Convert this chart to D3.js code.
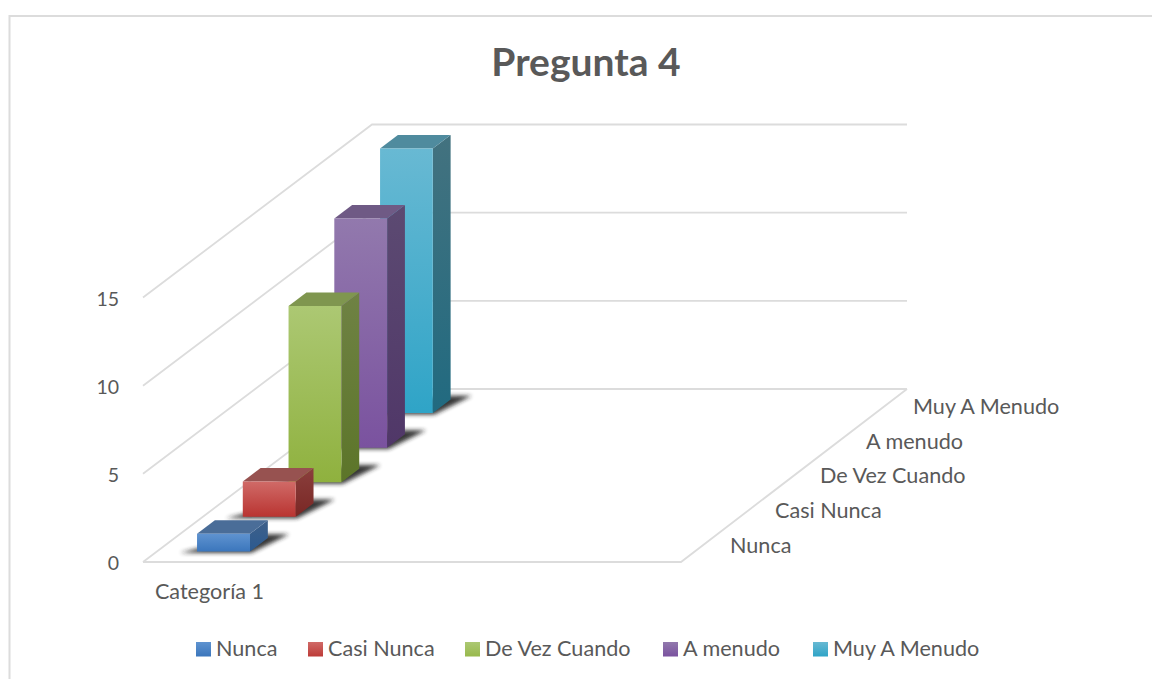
<!DOCTYPE html>
<html><head><meta charset="utf-8">
<script src="https://cdn.jsdelivr.net/npm/d3@7"></script>
<style>html,body{margin:0;background:#fff}svg{display:block}text{font-family:Lato,"Open Sans",sans-serif;fill:#595959}</style>
</head><body><svg id="c" width="1152" height="679"></svg>
<script>
const title = "Pregunta 4";
const categories = ["Categoría 1"];
const series = ["Nunca","Casi Nunca","De Vez Cuando","A menudo","Muy A Menudo"];
const values = [1,2,10,13,15];
const yTicks = [0,5,10,15];
const frontColors = [["#5f93d0","#3b76bc"],["#d06a67","#b93431"],["#acc873","#8fb13e"],["#9279ad","#7a529f"],["#68b9d3","#2fa4c7"]];
const sideColors = [["#3e6089","#2c5a90"],["#8a3f3d","#7a2724"],["#6f8244","#5c7529"],["#5c4a72","#503768"],["#43727f","#216a80"]];
const topColors = ["#4a6d98","#975250","#7f964f","#6f5a85","#4f8b9e"];
const legendColors = [["#5f93d0","#3b76bc"],["#d06a67","#bd3b38"],["#acc873","#98b94c"],["#9279ad","#7a529f"],["#68b9d3","#2fa4c7"]];

const svg = d3.select("#c");
const defs = svg.append("defs");

// projection of chart space onto the picture
const xFront = d3.scaleLinear().domain([0,1]).range([143,681]);
const xBack = d3.scaleLinear().domain([0,1]).range([372,907]);
const depthY = d3.scaleLinear().domain([0,1]).range([0,173]);
const yS = d3.scaleLinear().domain([0,15]).range([0,264.5]);
const P=(x,d,v)=>[xFront(x)+(xBack(x)-xFront(x))*d, 562-depthY(d)-yS(v)];
const catBand = d3.scaleBand().domain(categories).range([0,1]);
const serBand = d3.scaleBand().domain(series).range([0,1]);
const barW=0.0985, barD=0.078;

// chart frame
svg.append("path").attr("d",d3.line()([[9.5,679],[9.5,16],[1152,16]])).attr("fill","none").attr("stroke","#dcdcdc").attr("stroke-width",2);

// gridlines
const line=d3.line();
const grid=svg.append("g").attr("fill","none").attr("stroke","#dcdcdc").attr("stroke-width",1.8);
yTicks.forEach(t=>{
  grid.append("path").attr("d",line([P(0,0,t),P(0,1,t),P(1,1,t)]));
});
grid.append("path").attr("d",line([P(0,0,0),P(1,0,0),P(1,1,0)]));

// y tick labels
svg.append("g").selectAll("text").data(yTicks).join("text")
  .attr("x",119).attr("y",t=>P(0,0,t)[1]+8).attr("text-anchor","end").attr("font-size",19.5).text(t=>t);

// gradient + blur
const blur=defs.append("filter").attr("id","blur").attr("x","-30%").attr("y","-60%").attr("width","160%").attr("height","220%");
blur.append("feGaussianBlur").attr("stdDeviation",2.3);
function grad(id,c){const g=defs.append("linearGradient").attr("id",id).attr("x1",0).attr("y1",0).attr("x2",0).attr("y2",1);
  g.append("stop").attr("offset",0).attr("stop-color",c[0]);g.append("stop").attr("offset",1).attr("stop-color",c[1]);}
series.forEach((s,i)=>{grad("f"+i,frontColors[i]);grad("s"+i,sideColors[i]);grad("l"+i,legendColors[i]);});

const x0=catBand(categories[0])+catBand.bandwidth()*0.0745;
const dC=s=>serBand(s)+serBand.bandwidth()/2;

// back series drawn first
const order=d3.range(series.length).reverse();
const bars=svg.append("g");
order.forEach(i=>{
  const s=series[i],v=values[i],d0=dC(s)-barD/2,d1=d0+barD,x1=x0+barW;
  const g=bars.append("g").attr("class","bar");
  g.append("polygon").attr("fill","#222").attr("opacity",0.9).attr("filter","url(#blur)")
    .attr("points",[P(x0-0.028,d0-0.008,0),P(x1+0.006,d0-0.008,0),P(x1+0.03,d1+0.022,0),P(x1-0.03,d1+0.022,0)].join(" "));
  g.append("polygon").attr("fill","url(#s"+i+")")
    .attr("points",[P(x1,d0,v),P(x1,d1,v),P(x1,d1,0),P(x1,d0,0)].join(" "));
  g.append("polygon").attr("fill",topColors[i])
    .attr("points",[P(x0,d0,v),P(x1,d0,v),P(x1,d1,v),P(x0,d1,v)].join(" "));
  g.append("polygon").attr("fill","url(#f"+i+")")
    .attr("points",[P(x0,d0,v),P(x1,d0,v),P(x1,d0,0),P(x0,d0,0)].join(" "));
});

// depth labels
const depthLabelX=[730,775,820,866,913];
const labelSize=21.6;
svg.append("g").selectAll("text").data(series).join("text")
  .attr("x",(s,i)=>depthLabelX[i]).attr("y",(s,i)=>552.5-i*34.6)
  .attr("font-size",labelSize).text(s=>s);

// category label
svg.append("text").attr("x",209.5).attr("y",599).attr("text-anchor","middle").attr("font-size",labelSize).text(categories[0]);

// title
svg.append("text").attr("x",586).attr("y",75.5).attr("text-anchor","middle").attr("font-size",39).attr("font-weight",700).text(title);

// legend
const legendX=[196,308,465,663,813];
const lg=svg.append("g").selectAll("g").data(series).join("g").attr("transform",(s,i)=>`translate(${legendX[i]},642)`);
lg.append("rect").attr("width",15).attr("height",14.5).attr("fill",(s,i)=>`url(#l${i})`);
lg.append("text").attr("x",20).attr("y",14).attr("font-size",labelSize).text(s=>s);
</script></body></html>
